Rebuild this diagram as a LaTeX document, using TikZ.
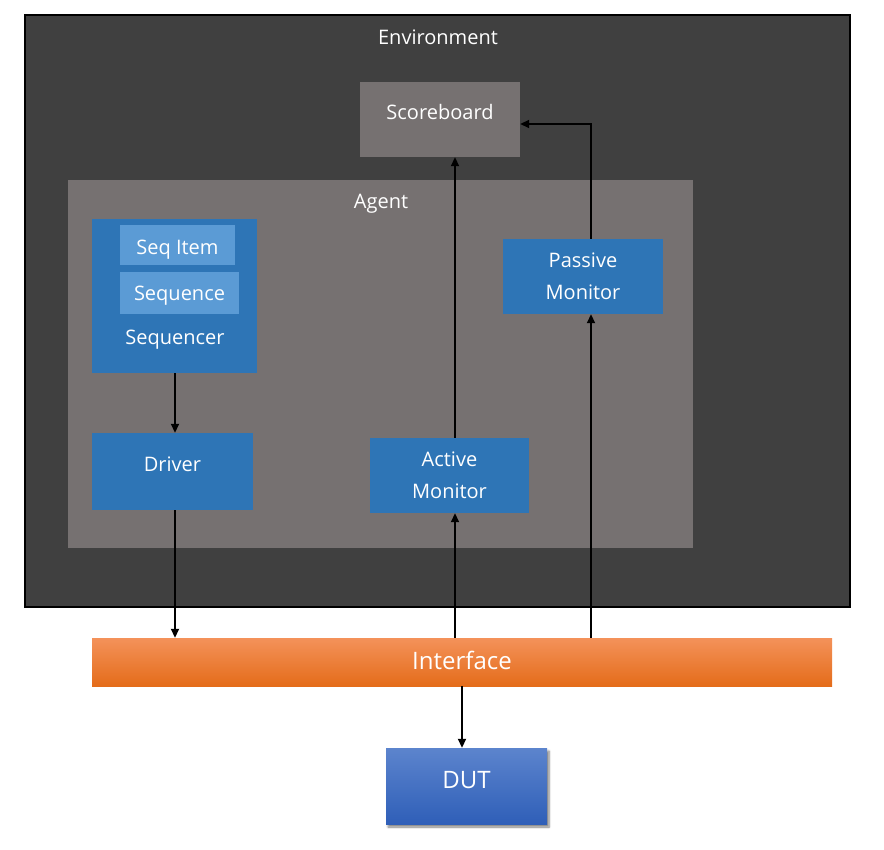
\documentclass[tikz,border=0pt]{standalone}
\usepackage{fontspec}
\setmainfont{Open Sans}
\usetikzlibrary{arrows.meta,shadows.blur}
\definecolor{envc}{HTML}{404040}
\definecolor{grayc}{HTML}{767171}
\definecolor{bluec}{HTML}{2E75B6}
\definecolor{lbluec}{HTML}{5B9BD5}
\definecolor{otop}{HTML}{F4925A}
\definecolor{obot}{HTML}{E46C1A}
\definecolor{dtop}{HTML}{5C84CD}
\definecolor{dbot}{HTML}{2F5FB8}
\tikzset{
  box/.style={rectangle, inner sep=0pt, text=white, align=center, font=\fontsize{20}{32}\selectfont},
  lbl/.style={inner sep=0pt, text=white, font=\fontsize{20}{24}\selectfont, text height=14pt, text depth=0pt},
  hd/.style={text height=#1, text depth=0pt},
  arr/.style={line width=1.8pt, -{Triangle[length=9pt,width=8pt]}},
  big/.style={font=\fontsize{24}{28}\selectfont}
}
\begin{document}
\begin{tikzpicture}[x=1pt,y=-1pt]
\useasboundingbox (0,0) rectangle (884,850);
\node[box, fill=envc, draw=black, line width=2pt, minimum width=825pt, minimum height=592pt] (env) at (437.5,311) {};
\node[lbl] (envl) at (438,38) {Environment};
\node[box, fill=grayc, minimum width=160pt, minimum height=75pt, text height=10pt, text depth=10pt] (sb) at (440,119.5) {Scoreboard};
\node[box, fill=grayc, minimum width=625pt, minimum height=368pt] (agent) at (380.5,364) {};
\node[lbl] (agl) at (381,202) {Agent};
\node[box, fill=bluec, minimum width=165pt, minimum height=154pt] (seq) at (174.5,296) {};
\node[box, fill=lbluec, minimum width=115pt, minimum height=40pt, hd=19pt] (si) at (177.5,245) {Seq Item};
\node[box, fill=lbluec, minimum width=119pt, minimum height=42pt, hd=16pt] (sq) at (179.5,293) {Sequence};
\node[lbl] (seql) at (175,338) {Sequencer};
\node[box, fill=bluec, minimum width=161pt, minimum height=77pt, text height=10pt, text depth=10pt] (drv) at (172.5,471.5) {Driver};
\node[box, fill=bluec, minimum width=159pt, minimum height=75pt] (am) at (449.5,475.5) {Active\\Monitor};
\node[box, fill=bluec, minimum width=160pt, minimum height=75pt] (pm) at (583,276.5) {Passive\\Monitor};
\node[box, big, top color=otop, bottom color=obot, minimum width=740pt, minimum height=48pt, text height=17pt, text depth=3pt] (ifc) at (462,662) {Interface};
\node[box, big, top color=dtop, bottom color=dbot, minimum width=161pt, minimum height=76pt, text height=12pt, text depth=8pt,
  blur shadow={shadow xshift=2pt, shadow yshift=-3pt, shadow blur steps=6, shadow opacity=50}] (dut) at (466.5,786) {DUT};
\draw[arr] ([xshift=0.5pt]seq.south) -- ([xshift=2.5pt]drv.north);
\draw[arr] ([xshift=2.5pt]drv.south) -- ([xshift=2.5pt]drv.south |- ifc.north);
\draw[arr] ([xshift=5.5pt]am.south |- ifc.north) -- ([xshift=5.5pt]am.south);
\draw[arr] ([xshift=5.5pt]am.north) -- ([xshift=5.5pt]am.north |- sb.south);
\draw[arr] ([xshift=8pt]pm.south |- ifc.north) -- ([xshift=8pt]pm.south);
\draw[arr] ([xshift=8pt]pm.north) |- ([yshift=-4.5pt]sb.east);
\draw[arr] (ifc.south) -- (ifc.south |- dut.north);
\end{tikzpicture}
\end{document}
